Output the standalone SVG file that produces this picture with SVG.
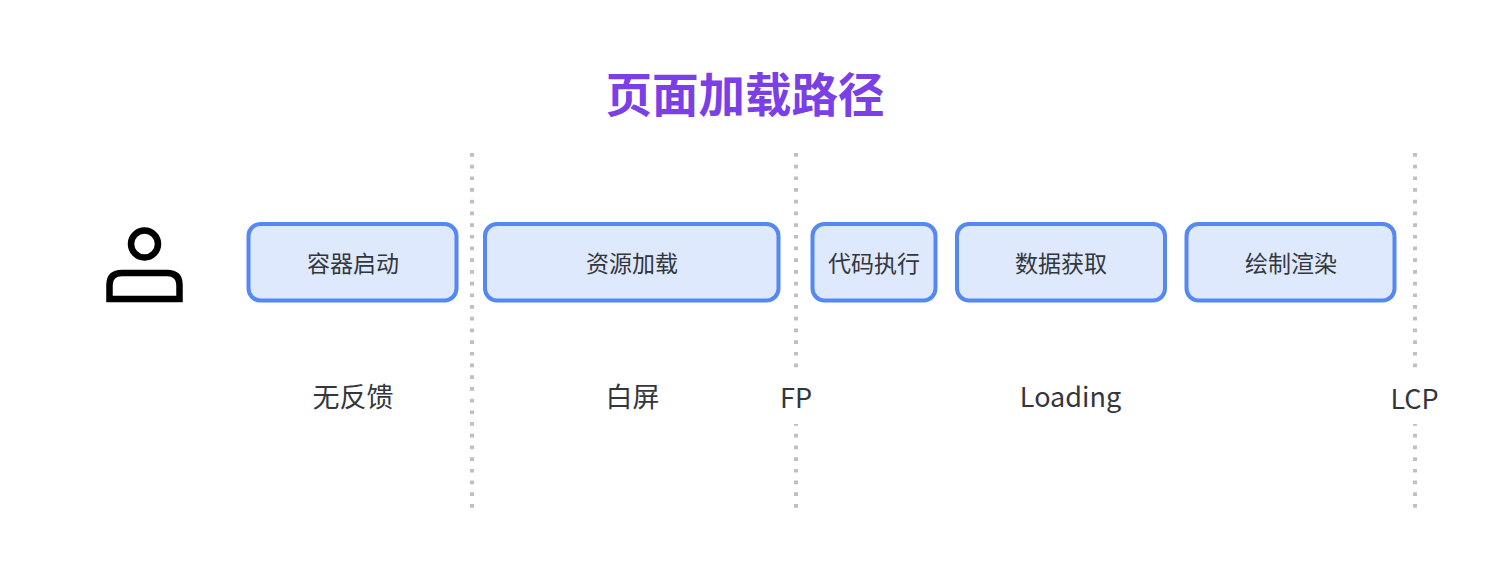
<svg xmlns="http://www.w3.org/2000/svg" width="1512" height="569" viewBox="0 0 1512 569">
<style>
text{font-family:"Noto Sans CJK SC","Noto Sans",sans-serif;text-anchor:middle;fill:#33363b}
.box{fill:#dfe9fd;stroke:#5588f2;stroke-width:4}
.t{font-size:23px}
.l{font-size:27px}
.d{stroke:#c0c0c0;stroke-width:4;stroke-dasharray:3.7 8}
.i{fill:none;stroke:#000;stroke-width:6.5}
.m{fill:#fff}
</style>
<rect width="1512" height="569" fill="#fff"/>
<text x="745" y="112" style="font-size:46.500px;font-weight:700;fill:#7a3fe6">页面加载路径</text>
<g id="connectors">
<path class="d" d="M472 153V508"/>
<path class="d" d="M796 153V508"/>
<path class="d" d="M1415 153V508"/>
</g>
<g id="user">
<circle class="i" cx="144.500" cy="244" r="13.500"/>
<path class="i" d="M109.500 299V285Q109.500 273 122 273H167Q179.500 273 179.500 285V299Z"/>
</g>
<g id="n1"><rect class="box" x="248.500" y="224" width="208" height="76.500" rx="12"/><text class="t" x="353" y="272">容器启动</text></g>
<g id="n2"><rect class="box" x="485" y="224" width="293.500" height="76.500" rx="12"/><text class="t" x="632" y="272">资源加载</text></g>
<g id="n3"><rect class="box" x="812.500" y="224" width="123" height="76.500" rx="12"/><text class="t" x="874" y="272">代码执行</text></g>
<g id="n4"><rect class="box" x="957" y="224" width="208" height="76.500" rx="12"/><text class="t" x="1061" y="272">数据获取</text></g>
<g id="n5"><rect class="box" x="1186.500" y="224" width="208" height="76.500" rx="12"/><text class="t" x="1291" y="272">绘制渲染</text></g>
<g id="labels">
<rect class="m" x="775" y="371" width="42" height="53"/>
<rect class="m" x="1385" y="371" width="60" height="53"/>
<text class="l" x="353" y="407">无反馈</text>
<text class="l" x="632.500" y="407">白屏</text>
<text class="l" x="796" y="408">FP</text>
<text class="l" x="1070.500" y="407">Loading</text>
<text class="l" x="1414.500" y="409">LCP</text>
</g>
</svg>
